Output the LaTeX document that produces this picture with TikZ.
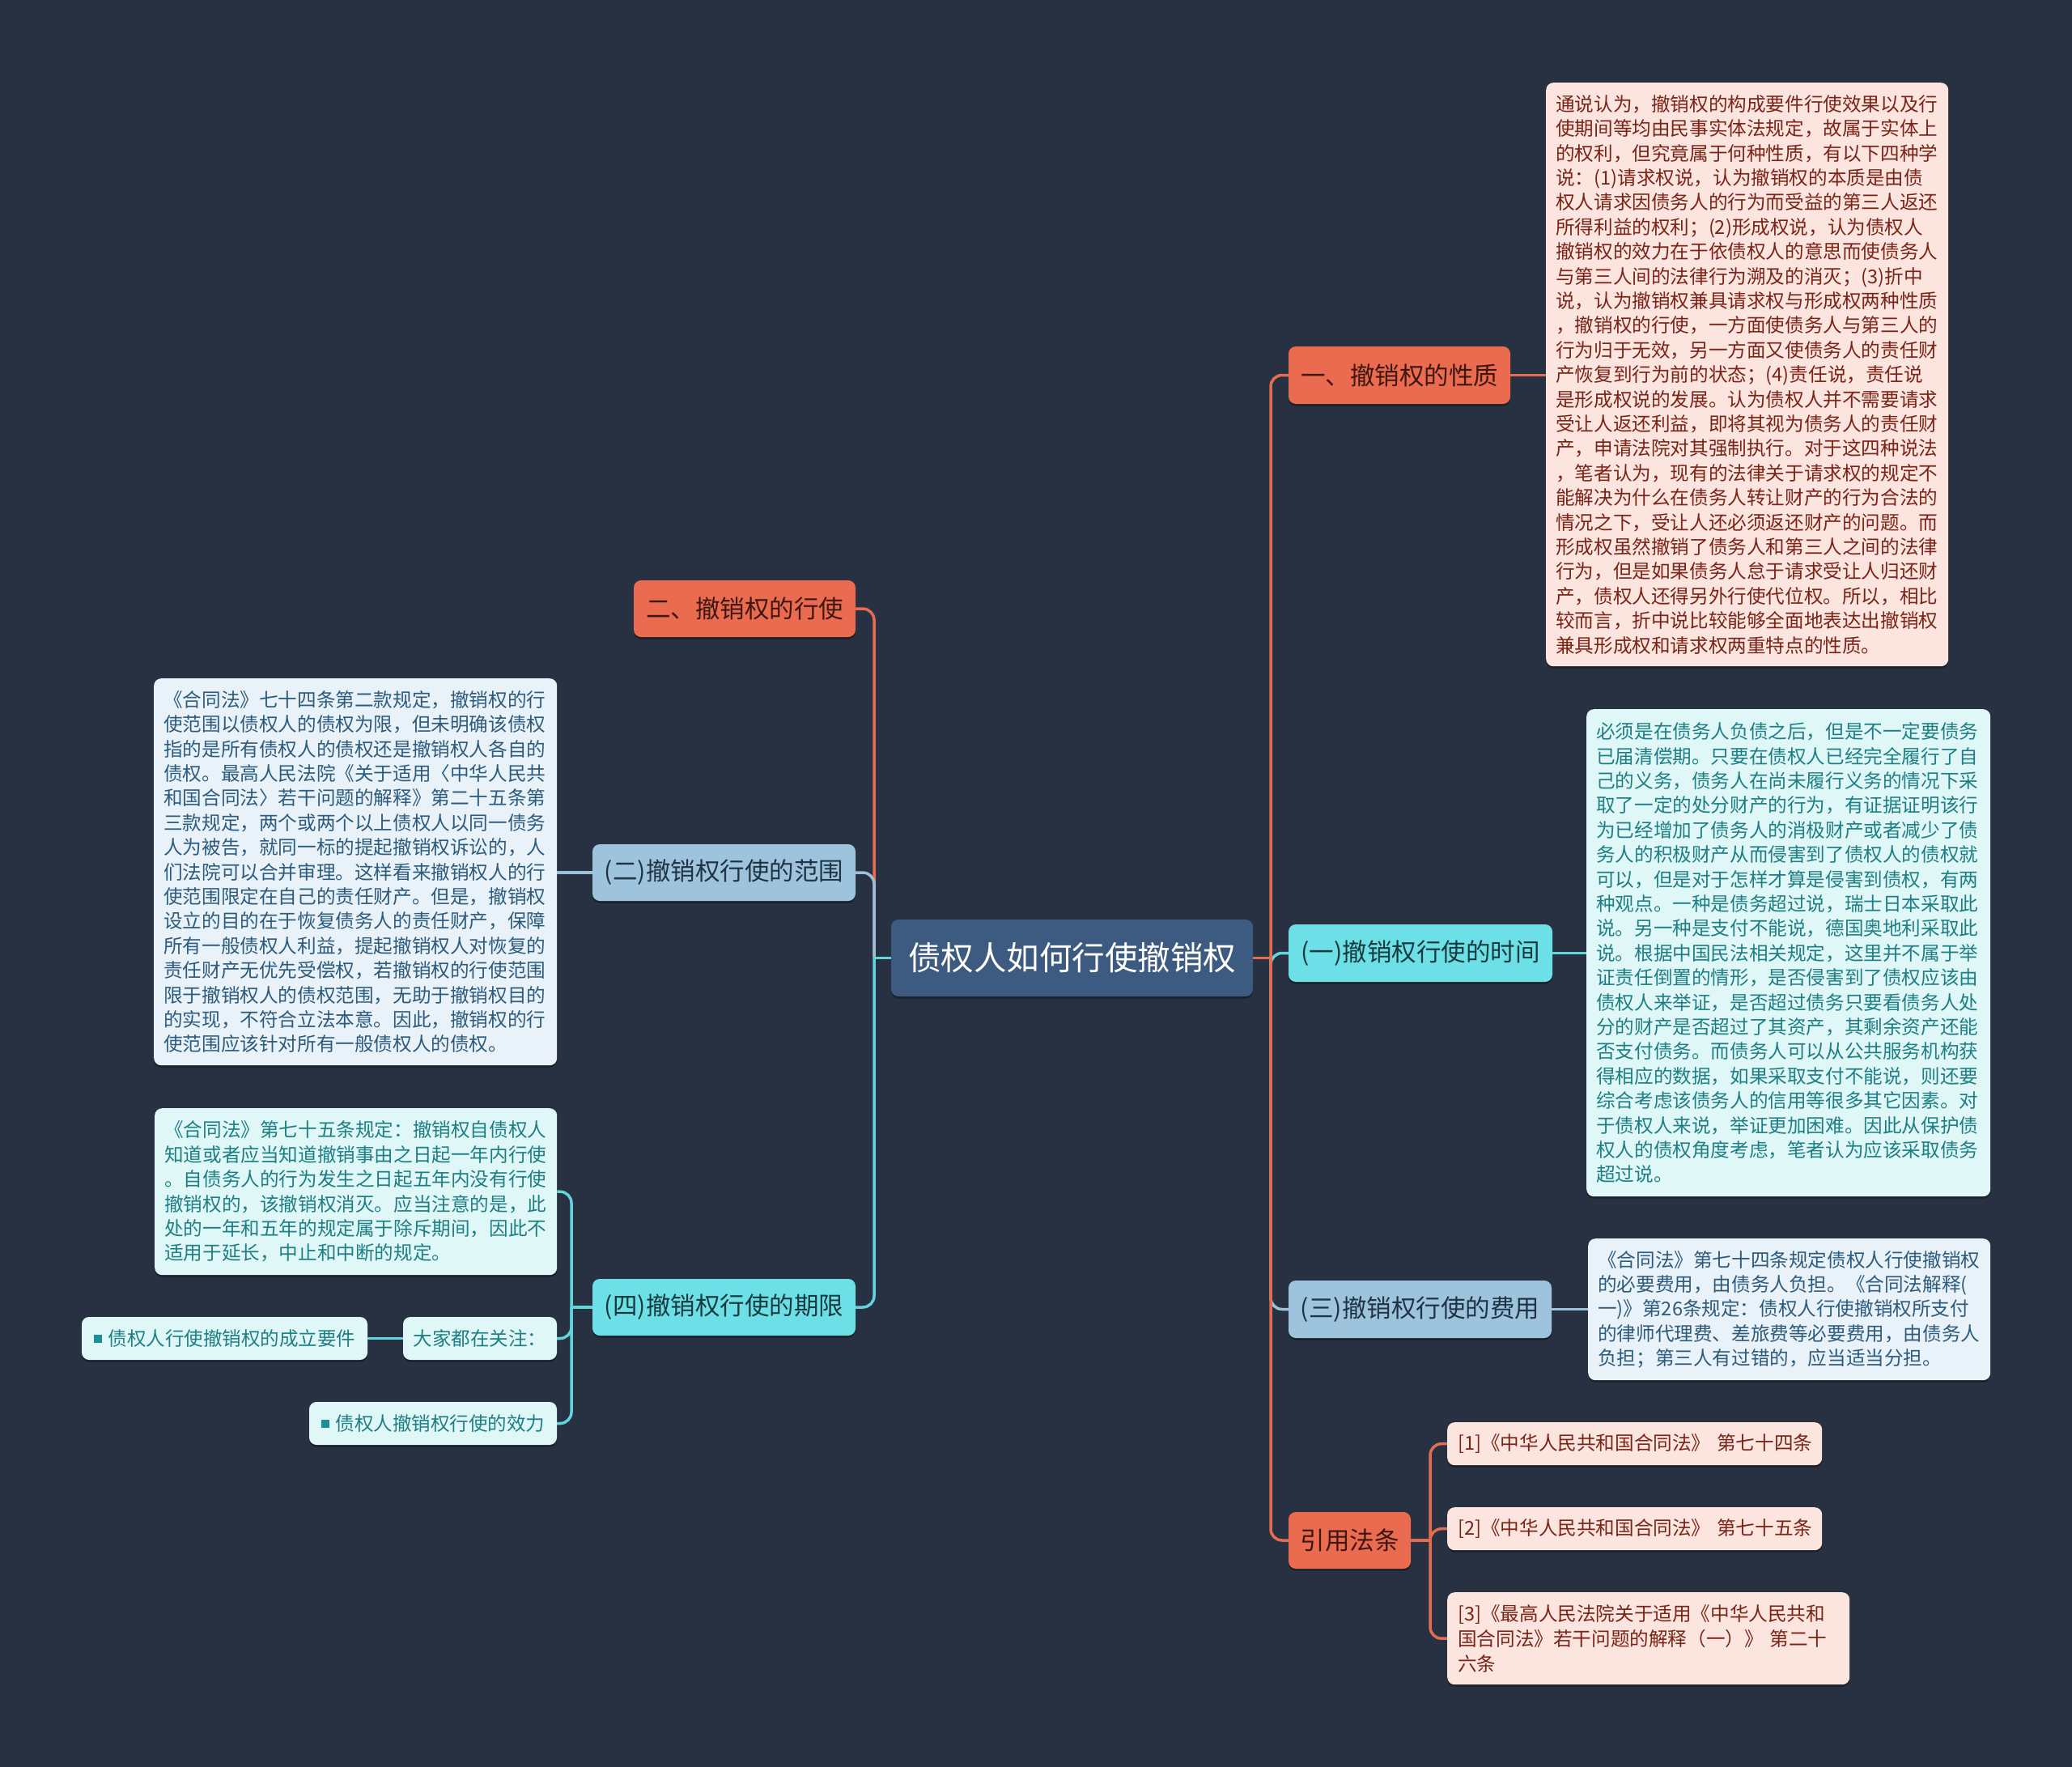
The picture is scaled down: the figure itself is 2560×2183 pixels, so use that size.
\documentclass[tikz,border=0pt]{standalone}
\usepackage{fontspec}
\setmainfont{Noto Sans CJK SC}
\usetikzlibrary{shadows}
\definecolor{bg}{HTML}{283142}
\definecolor{rootfill}{HTML}{3D5A80}
\definecolor{coral}{HTML}{EA6B4F}
\definecolor{coraltext}{HTML}{3E1710}
\definecolor{cyanfill}{HTML}{6CE0E6}
\definecolor{cyantext}{HTML}{153A3E}
\definecolor{bluefill}{HTML}{9EC4DD}
\definecolor{bluetext}{HTML}{1F3344}
\definecolor{pinkbox}{HTML}{FCE4DF}
\definecolor{pinktext}{HTML}{7A2417}
\definecolor{cyanbox}{HTML}{E0F7F8}
\definecolor{tealtext}{HTML}{1D7F84}
\definecolor{bluebox}{HTML}{E9F2F8}
\definecolor{steeltext}{HTML}{2C5B7E}
\definecolor{lcoral}{HTML}{E56C51}
\definecolor{lcyan}{HTML}{62D4DB}
\definecolor{lblue}{HTML}{9DC0D8}
\definecolor{bullet}{HTML}{1A9096}
\pgfdeclarelayer{backdrop}
\pgfdeclarelayer{lines}
\pgfsetlayers{backdrop,lines,main}
\tikzset{
  sz/.style 2 args={minimum width=#1, minimum height=#2},
  nodebase/.style={rounded corners=9pt, inner sep=0pt,
    drop shadow={shadow xshift=0pt, shadow yshift=-2.5pt, fill=black, opacity=0.35}},
  rootnode/.style={nodebase, fill=rootfill, text=white, font={\fontsize{40.5}{48}\selectfont}},
  coralnode/.style={nodebase, fill=coral, text=coraltext, font={\fontsize{30.5}{36}\selectfont}},
  cyannode/.style={nodebase, fill=cyanfill, text=cyantext, font={\fontsize{30.5}{36}\selectfont}},
  bluenode/.style={nodebase, fill=bluefill, text=bluetext, font={\fontsize{30.5}{36}\selectfont}},
  textbox/.style={nodebase, inner xsep=12pt, align=left, font={\fontsize{23.6}{30.4}\selectfont}},
  pinkbox/.style={textbox, fill=pinkbox, text=pinktext},
  cyanbox/.style={textbox, fill=cyanbox, text=tealtext},
  bluebox/.style={textbox, fill=bluebox, text=steeltext},
  smallcyan/.style={nodebase, fill=cyanbox, text=tealtext, font={\fontsize{23.5}{28}\selectfont}},
  link/.style={line width=3.5pt, rounded corners=14pt},
}
\newcommand{\sqbul}{\raisebox{3pt}{\textcolor{bullet}{\rule{10pt}{10pt}}}\hspace{8pt}}
\begin{document}
\begin{tikzpicture}[x=1pt, y=-1pt]
\begin{pgfonlayer}{backdrop}
\fill[bg] (0,0) rectangle (2560,2183);
\end{pgfonlayer}
\useasboundingbox (0,0) rectangle (2560,2183);

% ---------- nodes ----------
\node[rootnode, sz={447pt}{95pt}] (root) at (1324.5,1183.5) {债权人如何行使撤销权};

\node[coralnode, sz={274pt}{71pt}] (n1) at (1729,463.5) {一、撤销权的性质};
\node[cyannode, sz={326pt}{71pt}] (nt) at (1755,1177.5) {(一)撤销权行使的时间};
\node[bluenode, sz={325pt}{71pt}] (nf) at (1754.5,1617.5) {(三)撤销权行使的费用};
\node[coralnode, sz={151pt}{70pt}] (nr) at (1667.5,1903) {引用法条};

\node[coralnode, sz={274pt}{70pt}] (n2) at (920,752) {二、撤销权的行使};
\node[bluenode, sz={325pt}{70pt}] (ns) at (894.5,1078) {(二)撤销权行使的范围};
\node[cyannode, sz={325pt}{70pt}] (np) at (894.5,1615) {(四)撤销权行使的期限};

\node[pinkbox, text width=473pt, minimum height=721pt, anchor=north west] (tn) at (1910,102) {%
通说认为，撤销权的构成要件行使效果以及行\\
使期间等均由民事实体法规定，故属于实体上\\
的权利，但究竟属于何种性质，有以下四种学\\
说：(1)请求权说，认为撤销权的本质是由债\\
权人请求因债务人的行为而受益的第三人返还\\
所得利益的权利；(2)形成权说，认为债权人\\
撤销权的效力在于依债权人的意思而使债务人\\
与第三人间的法律行为溯及的消灭；(3)折中\\
说，认为撤销权兼具请求权与形成权两种性质\\
，撤销权的行使，一方面使债务人与第三人的\\
行为归于无效，另一方面又使债务人的责任财\\
产恢复到行为前的状态；(4)责任说，责任说\\
是形成权说的发展。认为债权人并不需要请求\\
受让人返还利益，即将其视为债务人的责任财\\
产，申请法院对其强制执行。对于这四种说法\\
，笔者认为，现有的法律关于请求权的规定不\\
能解决为什么在债务人转让财产的行为合法的\\
情况之下，受让人还必须返还财产的问题。而\\
形成权虽然撤销了债务人和第三人之间的法律\\
行为，但是如果债务人怠于请求受让人归还财\\
产，债权人还得另外行使代位权。所以，相比\\
较而言，折中说比较能够全面地表达出撤销权\\
兼具形成权和请求权两重特点的性质。};

\node[cyanbox, text width=475pt, minimum height=602pt, anchor=north west] (tt) at (1960,876) {%
必须是在债务人负债之后，但是不一定要债务\\
已届清偿期。只要在债权人已经完全履行了自\\
己的义务，债务人在尚未履行义务的情况下采\\
取了一定的处分财产的行为，有证据证明该行\\
为已经增加了债务人的消极财产或者减少了债\\
务人的积极财产从而侵害到了债权人的债权就\\
可以，但是对于怎样才算是侵害到债权，有两\\
种观点。一种是债务超过说，瑞士日本采取此\\
说。另一种是支付不能说，德国奥地利采取此\\
说。根据中国民法相关规定，这里并不属于举\\
证责任倒置的情形，是否侵害到了债权应该由\\
债权人来举证，是否超过债务只要看债务人处\\
分的财产是否超过了其资产，其剩余资产还能\\
否支付债务。而债务人可以从公共服务机构获\\
得相应的数据，如果采取支付不能说，则还要\\
综合考虑该债务人的信用等很多其它因素。对\\
于债权人来说，举证更加困难。因此从保护债\\
权人的债权角度考虑，笔者认为应该采取债务\\
超过说。};

\node[bluebox, text width=473pt, minimum height=175pt, anchor=north west] (tf) at (1962,1530) {%
《合同法》第七十四条规定债权人行使撤销权\\
的必要费用，由债务人负担。《合同法解释(\\
一)》第26条规定：债权人行使撤销权所支付\\
的律师代理费、差旅费等必要费用，由债务人\\
负担；第三人有过错的，应当适当分担。};

\node[pinkbox, inner xsep=13pt, text width=437pt, minimum height=53pt, anchor=north west] (r1) at (1788,1757) {\mbox{[1]《中华人民共和国合同法》 第七十四条}};
\node[pinkbox, inner xsep=13pt, text width=437pt, minimum height=53pt, anchor=north west] (r2) at (1788,1862) {\mbox{[2]《中华人民共和国合同法》 第七十五条}};
\node[pinkbox, inner xsep=13pt, text width=471pt, minimum height=114pt, anchor=north west, font={\fontsize{23.6}{31}\selectfont}] (r3) at (1788,1967) {%
[3]《最高人民法院关于适用《中华人民共和\\
国合同法》若干问题的解释（一）》 第二十\\
六条};

\node[bluebox, text width=474pt, minimum height=478pt, anchor=north west] (ts) at (190,838) {%
《合同法》七十四条第二款规定，撤销权的行\\
使范围以债权人的债权为限，但未明确该债权\\
指的是所有债权人的债权还是撤销权人各自的\\
债权。最高人民法院《关于适用〈中华人民共\\
和国合同法〉若干问题的解释》第二十五条第\\
三款规定，两个或两个以上债权人以同一债务\\
人为被告，就同一标的提起撤销权诉讼的，人\\
们法院可以合并审理。这样看来撤销权人的行\\
使范围限定在自己的责任财产。但是，撤销权\\
设立的目的在于恢复债务人的责任财产，保障\\
所有一般债权人利益，提起撤销权人对恢复的\\
责任财产无优先受偿权，若撤销权的行使范围\\
限于撤销权人的债权范围，无助于撤销权目的\\
的实现，不符合立法本意。因此，撤销权的行\\
使范围应该针对所有一般债权人的债权。};

\node[cyanbox, text width=473pt, minimum height=206pt, anchor=north west] (tp) at (191,1369) {%
《合同法》第七十五条规定：撤销权自债权人\\
知道或者应当知道撤销事由之日起一年内行使\\
。自债务人的行为发生之日起五年内没有行使\\
撤销权的，该撤销权消灭。应当注意的是，此\\
处的一年和五年的规定属于除斥期间，因此不\\
适用于延长，中止和中断的规定。};

\node[smallcyan, sz={190pt}{53pt}] (attn) at (593,1653.5) {大家都在关注：};
\node[smallcyan, sz={353pt}{53pt}] (req) at (277.5,1653.5) {\sqbul 债权人行使撤销权的成立要件};
\node[smallcyan, sz={306pt}{53pt}] (eff) at (535,1758.5) {\sqbul 债权人撤销权行使的效力};

% ---------- junction points ----------
\coordinate (TR) at (1570,1183.5);
\coordinate (TL) at (1080,1183.5);
\coordinate (TP) at (706,1615);
\coordinate (TQ) at (1767,1903);

% ---------- connectors ----------
\begin{pgfonlayer}{lines}
% right side
\draw[link, lblue] (root.east) -- (TR);
\draw[link, lblue] (TR) |- (nf.west);
\draw[link, lcyan] (TR) -- (TR |- nt.west) -- (nt.west);
\draw[link, lcoral] (root.east) -- (TR);
\draw[link, lcoral] (TR) |- (n1.west);
\draw[link, lcoral] (TR) |- (nr.west);
% left side
\draw[link, lcoral] (root.west) -- (TL);
\draw[link, lcoral] (TL) |- (n2.east);
\draw[link, lblue] (TL) |- (ns.east);
\draw[link, lcyan] (root.west) -- (TL);
\draw[link, lcyan] (TL) |- (np.east);
% third level, right
\draw[link, lcoral] (n1.east) -- (n1.east -| tn.west);
\draw[link, lcyan] (nt.east) -- (nt.east -| tt.west);
\draw[link, lblue] (nf.east) -- (nf.east -| tf.west);
\draw[link, lcoral] (nr.east) -- (TQ);
\draw[link, lcoral] (TQ) |- (r1.west);
\draw[link, lcoral] (TQ) |- (r2.west);
\draw[link, lcoral] (TQ) |- (r3.west);
% third level, left
\draw[link, lblue] (ns.west) -- (ns.west -| ts.east);
\draw[link, lcyan] (np.west) -- (TP);
\draw[link, lcyan] (TP) |- (tp.east);
\draw[link, lcyan] (TP) |- (attn.east);
\draw[link, lcyan] (TP) |- (eff.east);
\draw[link, lcyan] (attn.west) -- (req.east);
\end{pgfonlayer}
\end{tikzpicture}
\end{document}
